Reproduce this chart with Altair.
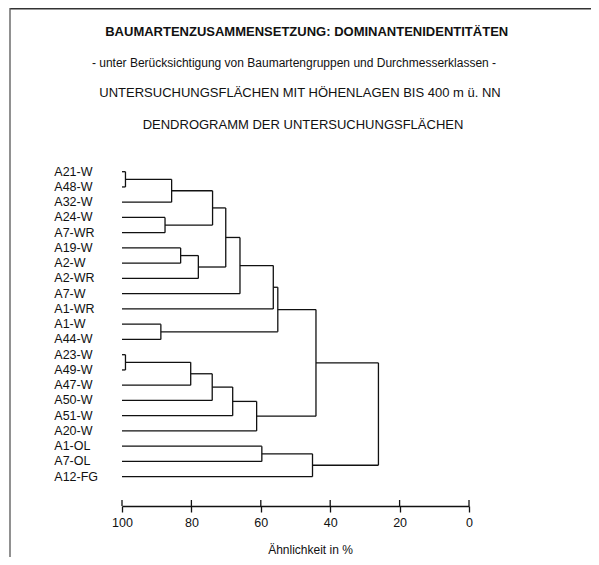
import altair as alt
import pandas as pd

FONT = "Liberation Sans"
INK = "#111111"

title_main = "BAUMARTENZUSAMMENSETZUNG: DOMINANTENIDENTITÄTEN"
title_sub = "- unter Berücksichtigung von Baumartengruppen und Durchmesserklassen -"
title_3 = "UNTERSUCHUNGSFLÄCHEN MIT HÖHENLAGEN BIS 400 m ü. NN"
title_4 = "DENDROGRAMM DER UNTERSUCHUNGSFLÄCHEN"
axis_title = "Ähnlichkeit in %"

leaves = ["A21-W", "A48-W", "A32-W", "A24-W", "A7-WR", "A19-W", "A2-W", "A2-WR",
          "A7-W", "A1-WR", "A1-W", "A44-W", "A23-W", "A49-W", "A47-W", "A50-W",
          "A51-W", "A20-W", "A1-OL", "A7-OL", "A12-FG"]

# merge k joins merge_left[k] and merge_right[k] at similarity merge_sim[k]
merge_left = ["A21-W", "m0", "A24-W", "m1", "A19-W", "m4", "m3", "m6", "m7", "A1-W",
              "m8", "A23-W", "m11", "m12", "m13", "m14", "m10", "A1-OL", "m17", "m16"]
merge_right = ["A48-W", "A32-W", "A7-WR", "m2", "A2-W", "A2-WR", "m5", "A7-W", "A1-WR", "A44-W",
               "m9", "A49-W", "A47-W", "A50-W", "A51-W", "A20-W", "m15", "A7-OL", "A12-FG", "m18"]
merge_sim = [99, 85.7, 87.6, 73.9, 83.1, 78.0, 70.1, 66.0, 56.4, 88.8,
             55.1, 99, 80.2, 74.0, 68.1, 61.2, 44.1, 59.7, 45.1, 26.1]

tick_values = [100, 80, 60, 40, 20, 0]

# node positions (similarity, leaf order position)
pos = {name: (100.0, float(i)) for i, name in enumerate(leaves)}
segs = []
for k, (a, b, h) in enumerate(zip(merge_left, merge_right, merge_sim)):
    xa, ya = pos[a]
    xb, yb = pos[b]
    segs.append({"x": xa, "x2": h, "y": ya, "y2": ya})
    segs.append({"x": xb, "x2": h, "y": yb, "y2": yb})
    segs.append({"x": h, "x2": h, "y": ya, "y2": yb})
    pos["m%d" % k] = (h, (ya + yb) / 2.0)
seg_df = pd.DataFrame(segs)
leaf_df = pd.DataFrame({"name": leaves, "idx": list(range(len(leaves)))})
tick_df = pd.DataFrame({"v": tick_values})

xscale = alt.Scale(domain=[100, 0], range=[114, 461])
yscale = alt.Scale(domain=[0, 20], range=[163.7, 468.7])

tree = alt.Chart(seg_df).mark_rule(color=INK, strokeWidth=1.3).encode(
    x=alt.X("x:Q", scale=xscale,
            axis=alt.Axis(values=tick_values, format="d", grid=False, tickSize=6,
                          tickWidth=1.3, domainWidth=1.3, domainColor=INK, tickColor=INK,
                          labelFont=FONT, labelFontSize=12.5, labelColor=INK, labelPadding=4,
                          labelFlush=False,
                          title=axis_title, titleFont=FONT, titleFontSize=12,
                          titleFontWeight="normal", titleColor=INK,
                          titleX=302, titleY=43, titleBaseline="middle")),
    x2="x2:Q",
    y=alt.Y("y:Q", scale=yscale, axis=None),
    y2="y2:Q",
)

up_ticks = alt.Chart(tick_df).mark_rule(color=INK, strokeWidth=1.3).encode(
    x=alt.X("v:Q", scale=xscale),
    y=alt.value(492),
    y2=alt.value(498),
)

labels = alt.Chart(leaf_df).mark_text(align="left", baseline="middle", font=FONT,
                                      fontSize=12.5, color=INK).encode(
    x=alt.value(46.3),
    y=alt.Y("idx:Q", scale=yscale),
    text="name:N",
)


def title_layer(txt, cx, cy, size, weight="normal"):
    return alt.Chart(pd.DataFrame({"t": [txt]})).mark_text(
        align="center", baseline="middle", font=FONT, fontSize=size,
        fontWeight=weight, color=INK).encode(
        x=alt.value(cx), y=alt.value(cy), text="t:N")


t1 = title_layer(title_main, 298.7, 23.7, 13, "bold")
t2 = title_layer(title_sub, 286, 55.3, 12)
t3 = title_layer(title_3, 292, 85.3, 13)
t4 = title_layer(title_4, 295, 117, 13)

frame_top = alt.Chart(pd.DataFrame({"a": [0]})).mark_rule(color="#333333", strokeWidth=1.5).encode(
    x=alt.value(2), x2=alt.value(583), y=alt.value(0.75))
frame_left = alt.Chart(pd.DataFrame({"a": [0]})).mark_rule(color="#555555", strokeWidth=1.3).encode(
    x=alt.value(2), y=alt.value(0), y2=alt.value(549))

chart = alt.layer(frame_top, frame_left, t1, t2, t3, t4, tree, up_ticks, labels).properties(
    width=583, height=498,
    autosize=alt.AutoSizeParams(type="none"),
    padding={"left": 0, "top": 0, "right": 0, "bottom": 51},
).configure_view(stroke=None)

chart.save("out.html", embed_options={"renderer": "svg", "actions": False})
